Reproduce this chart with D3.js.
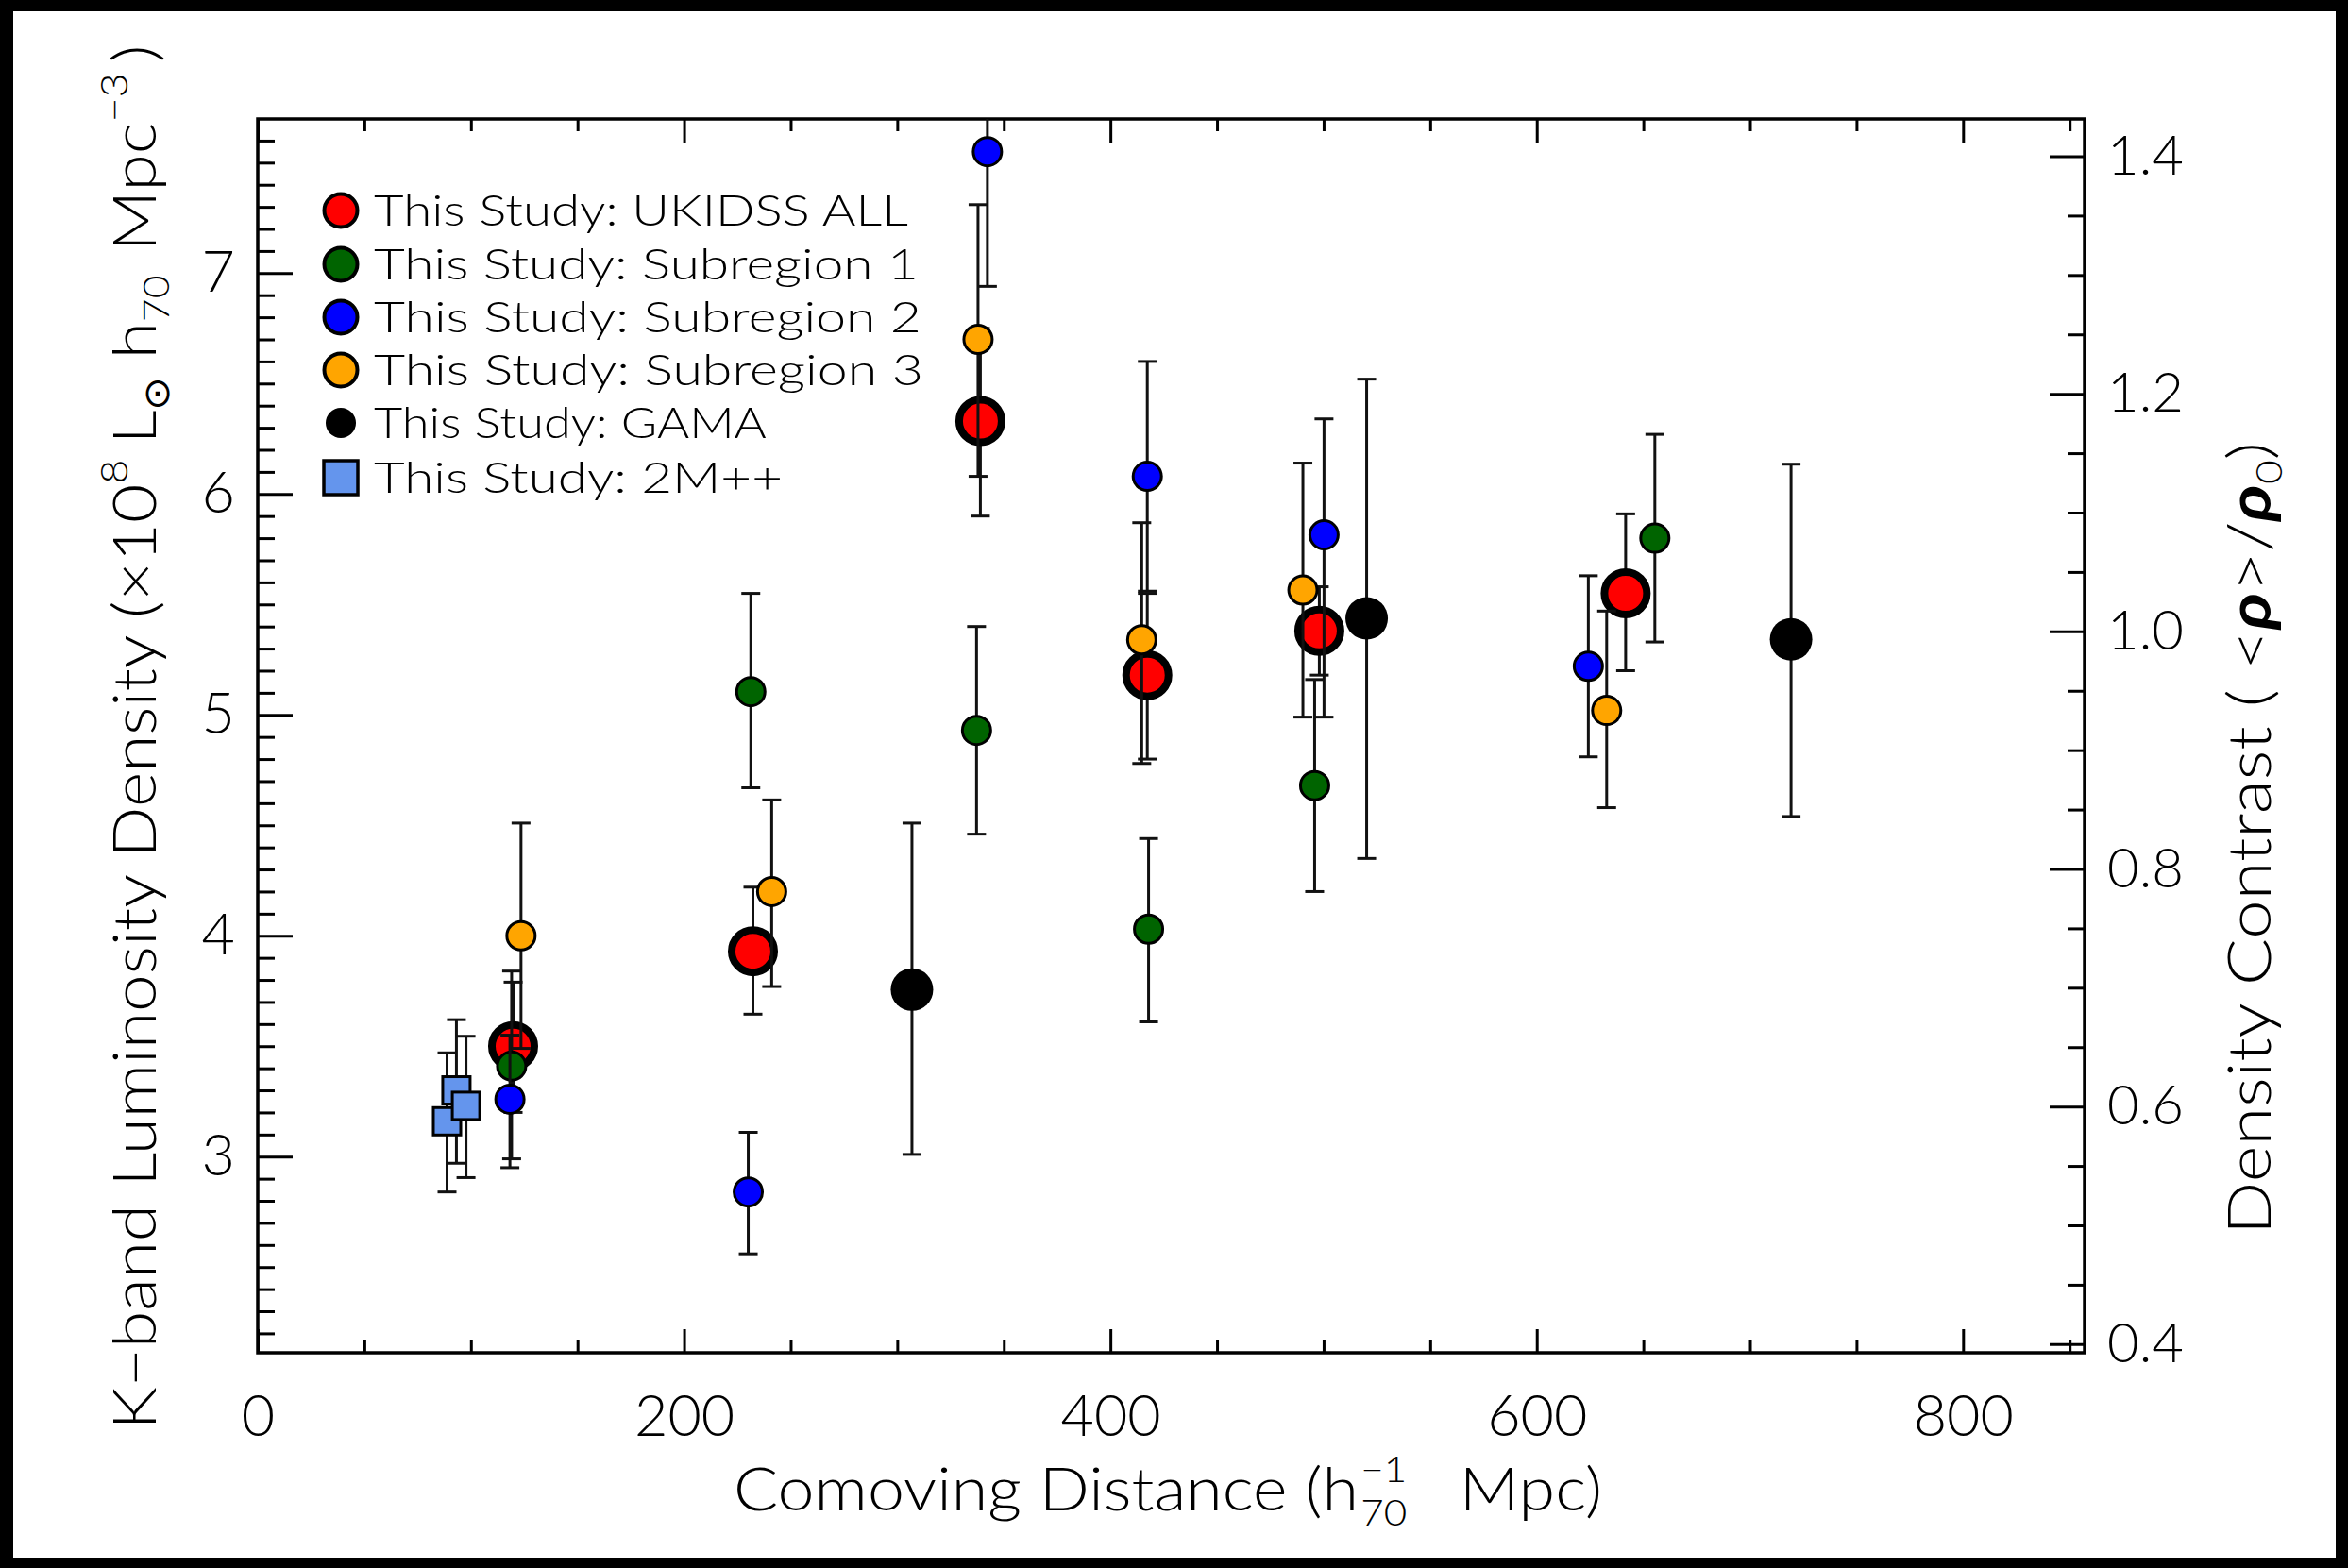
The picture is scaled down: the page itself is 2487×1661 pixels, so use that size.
<!DOCTYPE html>
<html><head><meta charset="utf-8">
<script src="https://cdn.jsdelivr.net/npm/d3@7"></script>
<style>
html,body{margin:0;padding:0;background:#000;}
text{font-family:"Lato","DejaVu Sans",sans-serif;font-weight:300;fill:#000;}
</style></head>
<body>
<script>
// ---------------- data ----------------
const xTickVals = [0, 200, 400, 600, 800];
const yTickVals = [3, 4, 5, 6, 7];
const rTickVals = [0.4, 0.6, 0.8, 1.0, 1.2, 1.4];
const rho0 = 5.378; // density contrast normalisation (right axis)

const legendLabels = ["This Study: UKIDSS ALL", "This Study: Subregion 1", "This Study: Subregion 2",
                      "This Study: Subregion 3", "This Study: GAMA", "This Study: 2M++"];

// UKIDSS ALL (red)
const allX  = [119.8, 232.3, 339.0, 417.3, 498.0, 641.7];
const allY  = [3.50, 3.93, 6.33, 5.18, 5.38, 5.55];
const allLo = [3.20, 3.645, 5.90, 4.80, 5.18, 5.20];
const allHi = [3.79, 4.22, 6.75, 5.55, 5.58, 5.91];
// Subregion 1 (green)
const s1X  = [119.1, 231.3, 337.2, 417.9, 495.8, 655.4];
const s1Y  = [3.41, 5.105, 4.93, 4.03, 4.68, 5.80];
const s1Lo = [2.99, 4.67, 4.46, 3.61, 4.20, 5.33];
const s1Hi = [3.84, 5.55, 5.40, 4.44, 5.16, 6.27];
// Subregion 2 (blue)
const s2X  = [118.3, 230.1, 342.3, 417.3, 500.2, 624.2];
const s2Y  = [3.26, 2.84, 7.55, 6.08, 5.815, 5.22];
const s2Lo = [2.95, 2.56, 6.94, 5.56, 4.99, 4.81];
const s2Hi = [3.55, 3.11, 8.16, 6.60, 6.34, 5.63];
// Subregion 3 (orange)
const s3X  = [123.5, 241.1, 337.9, 414.7, 490.3, 632.8];
const s3Y  = [4.00, 4.20, 6.70, 5.34, 5.565, 5.02];
const s3Lo = [3.49, 3.77, 6.08, 4.78, 4.99, 4.58];
const s3Hi = [4.51, 4.615, 7.31, 5.87, 6.14, 5.47];
// GAMA (black)
const gamaX  = [306.9, 520.2, 719.3];
const gamaY  = [3.756, 5.437, 5.342];
const gamaLo = [3.01, 4.35, 4.54];
const gamaHi = [4.51, 6.52, 6.135];
// 2M++ (squares)
const tmX  = [88.8, 93.2, 97.7];
const tmY  = [3.16, 3.30, 3.23];
const tmLo = [2.84, 2.97, 2.905];
const tmHi = [3.47, 3.62, 3.545];

// ---------------- layout ----------------
const W = 2487, H = 1661;
const L = 273, R = 2208, T = 126, B = 1433;
const xDom = [0, 857], yDom = [2.112, 7.698];
const FONT = "Lato, DejaVu Sans, sans-serif";

const svg = d3.select("body").append("svg").attr("width", W).attr("height", H)
  .style("display", "block");
svg.append("rect").attr("width", W).attr("height", H).attr("fill", "#000");
svg.append("rect").attr("x", 14).attr("y", 12).attr("width", 2460).attr("height", 1638).attr("fill", "#fff");

const x = d3.scaleLinear().domain(xDom).range([L, R]);
const y = d3.scaleLinear().domain(yDom).range([B, T]);
const yR = d3.scaleLinear().domain([yDom[0] / rho0, yDom[1] / rho0]).range([B, T]);

svg.append("clipPath").attr("id", "plotclip").append("rect")
  .attr("x", L).attr("y", T).attr("width", R - L).attr("height", B - T);

// ---------------- axes ----------------
const xMinor = d3.range(50, 857, 50).filter(v => v % 200 !== 0);
const yMinor = d3.range(22, 77, 1).map(v => v / 10).filter(v => Math.abs(v - Math.round(v)) > 1e-6);
const rMinor = d3.range(9, 29, 1).map(v => v / 20).filter(v => Math.abs(v * 5 - Math.round(v * 5)) > 1e-6);

function styleAxis(g, fs) {
  g.select(".domain").remove();
  g.selectAll("line").attr("stroke", "#000").attr("stroke-width", 3);
  g.attr("font-size", fs).attr("font-family", FONT);
  g.selectAll("text").attr("fill", "#000");
}
svg.append("g").attr("transform", `translate(0,${B})`)
  .call(d3.axisBottom(x).tickValues(xTickVals).tickSize(-25).tickPadding(45).tickFormat(d3.format("d")))
  .call(g => styleAxis(g, 61));
svg.append("g").attr("transform", `translate(0,${B})`)
  .call(d3.axisBottom(x).tickValues(xMinor).tickSize(-13).tickFormat(""))
  .call(g => styleAxis(g, 61));
svg.append("g").attr("transform", `translate(0,${T})`)
  .call(d3.axisTop(x).tickValues(xTickVals).tickSize(-25).tickFormat(""))
  .call(g => styleAxis(g, 61));
svg.append("g").attr("transform", `translate(0,${T})`)
  .call(d3.axisTop(x).tickValues(xMinor).tickSize(-13).tickFormat(""))
  .call(g => styleAxis(g, 61));
svg.append("g").attr("transform", `translate(${L},0)`)
  .call(d3.axisLeft(y).tickValues(yTickVals).tickSize(-37).tickPadding(24).tickFormat(d3.format("d")))
  .call(g => styleAxis(g, 61));
svg.append("g").attr("transform", `translate(${L},0)`)
  .call(d3.axisLeft(y).tickValues(yMinor).tickSize(-18).tickFormat(""))
  .call(g => styleAxis(g, 61));
svg.append("g").attr("transform", `translate(${R},0)`)
  .call(d3.axisRight(yR).tickValues(rTickVals).tickSize(-37).tickPadding(24).tickFormat(d3.format(".1f")))
  .call(g => styleAxis(g, 58));
svg.append("g").attr("transform", `translate(${R},0)`)
  .call(d3.axisRight(yR).tickValues(rMinor).tickSize(-18).tickFormat(""))
  .call(g => styleAxis(g, 58));

svg.append("rect").attr("x", L).attr("y", T).attr("width", R - L).attr("height", B - T)
  .attr("fill", "none").attr("stroke", "#000").attr("stroke-width", 3.5);

// ---------------- data marks ----------------
const plot = svg.append("g").attr("clip-path", "url(#plotclip)");

function errorBars(xs, lo, hi) {
  const rows = xs.map((v, i) => ({x: v, lo: lo[i], hi: hi[i]}));
  const g = plot.append("g").attr("stroke", "#111").attr("stroke-width", 3).attr("fill", "none");
  g.selectAll("line.v").data(rows).join("line").attr("class", "v")
    .attr("x1", d => x(d.x)).attr("x2", d => x(d.x)).attr("y1", d => y(d.lo)).attr("y2", d => y(d.hi));
  g.selectAll("line.lo").data(rows).join("line").attr("class", "lo")
    .attr("x1", d => x(d.x) - 10).attr("x2", d => x(d.x) + 10).attr("y1", d => y(d.lo)).attr("y2", d => y(d.lo));
  g.selectAll("line.hi").data(rows).join("line").attr("class", "hi")
    .attr("x1", d => x(d.x) - 10).attr("x2", d => x(d.x) + 10).attr("y1", d => y(d.hi)).attr("y2", d => y(d.hi));
}
function circles(xs, ys, fill, r, sw) {
  const rows = xs.map((v, i) => ({x: v, y: ys[i]}));
  plot.append("g").selectAll("circle").data(rows).join("circle")
    .attr("cx", d => x(d.x)).attr("cy", d => y(d.y)).attr("r", r)
    .attr("fill", fill).attr("stroke", "#000").attr("stroke-width", sw);
}
function series(xs, ys, lo, hi, fill, r, sw) {
  xs.forEach((v, i) => {
    errorBars([v], [lo[i]], [hi[i]]);
    circles([v], [ys[i]], fill, r, sw);
  });
}
series(allX, allY, allLo, allHi, "#ff0000", 22.5, 8);
series(s1X, s1Y, s1Lo, s1Hi, "#006400", 15, 3);
series(s2X, s2Y, s2Lo, s2Hi, "#0000ff", 15, 3);
series(s3X, s3Y, s3Lo, s3Hi, "#ffa500", 15, 3);
series(gamaX, gamaY, gamaLo, gamaHi, "#000", 22.5, 0);
errorBars(tmX, tmLo, tmHi);
plot.append("g").selectAll("rect").data(tmX.map((v, i) => ({x: v, y: tmY[i]}))).join("rect")
  .attr("x", d => x(d.x) - 14.5).attr("y", d => y(d.y) - 14.5).attr("width", 29).attr("height", 29)
  .attr("fill", "#6495ed").attr("stroke", "#000").attr("stroke-width", 3);

// ---------------- text helpers ----------------
function buildPieces(g, pieces) {
  let cx = 0;
  pieces.forEach(p => {
    const t = g.append("text").attr("x", cx + (p.dx || 0)).attr("y", p.dy || 0)
      .attr("font-size", p.fs).text(p.s);
    if (p.style) t.attr("font-style", p.style);
    if (p.weight) t.style("font-weight", p.weight);
    const w = t.node().getComputedTextLength();
    cx = cx + (p.dx || 0) + w + (p.gap || 0);
  });
}
function fitHoriz(g, left, baseline, width) {
  const bb = g.node().getBBox();
  const s = width / bb.width;
  g.attr("transform", `translate(${left},${baseline}) scale(${s},1) translate(${-bb.x},0)`);
}
function fitVert(g, baselineX, centerY, length) {
  const bb = g.node().getBBox();
  const s = length / bb.width;
  g.attr("transform", `translate(${baselineX},${centerY}) rotate(-90) scale(${s},1) translate(${-(bb.x + bb.width / 2)},0)`);
}

// x title
{
  const g = svg.append("g");
  const t1 = g.append("text").attr("font-size", 63).attr("x", 0).attr("y", 0).text("Comoving Distance (h");
  const w1 = t1.node().getComputedTextLength();
  const t2 = g.append("text").attr("font-size", 38).attr("x", w1 + 2).attr("y", -30).text("−1");
  const t3 = g.append("text").attr("font-size", 38).attr("x", w1 + 2).attr("y", 16).text("70");
  const w23 = Math.max(t2.node().getComputedTextLength(), t3.node().getComputedTextLength());
  g.append("text").attr("font-size", 63).attr("x", w1 + 2 + w23 + 50).attr("y", 0).text("Mpc)");
  fitHoriz(g, 777, 1600, 920);
}
// y title (left)
{
  const g = svg.append("g");
  buildPieces(g, [
    {s: "K−band Luminosity Density (×10", fs: 63},
    {s: "8", fs: 40, dy: -30, gap: 14},
    {s: "L", fs: 63},
    {s: "⊙", fs: 38, dy: 14, gap: 16},
    {s: "h", fs: 63},
    {s: "70", fs: 38, dy: 14, gap: 22},
    {s: "Mpc", fs: 63},
    {s: "−3", fs: 40, dy: -30, gap: 10},
    {s: ")", fs: 63}
  ]);
  fitVert(g, 165, 781, 1467);
}
// right title
{
  const g = svg.append("g");
  buildPieces(g, [
    {s: "Density Contrast ( <", fs: 63},
    {s: "ρ", fs: 63, style: "italic", weight: 700},
    {s: ">/", fs: 63},
    {s: "ρ", fs: 63, style: "italic", weight: 700},
    {s: "0", fs: 38, dy: 12},
    {s: ")", fs: 63}
  ]);
  fitVert(g, 2405, 888, 840);
}

// ---------------- legend ----------------
const legendY = [223, 280, 336, 392, 448, 506];
const legendW = [566, 577, 580, 582, 416, 433];
const legendFill = ["#ff0000", "#006400", "#0000ff", "#ffa500", "#000", "#6495ed"];
const leg = svg.append("g");
legendLabels.forEach((lab, i) => {
  const cy = legendY[i];
  if (i < 4) {
    leg.append("circle").attr("cx", 361).attr("cy", cy).attr("r", 17.5)
      .attr("fill", legendFill[i]).attr("stroke", "#000").attr("stroke-width", 4);
  } else if (i === 4) {
    leg.append("circle").attr("cx", 361).attr("cy", cy).attr("r", 16).attr("fill", "#000");
  } else {
    leg.append("rect").attr("x", 361 - 18).attr("y", cy - 18).attr("width", 36).attr("height", 36)
      .attr("fill", legendFill[i]).attr("stroke", "#000").attr("stroke-width", 3.5);
  }
  const g = leg.append("g");
  g.append("text").attr("font-size", 46).text(lab);
  fitHoriz(g, 396, cy + 16, legendW[i]);
});
</script>
</body></html>
